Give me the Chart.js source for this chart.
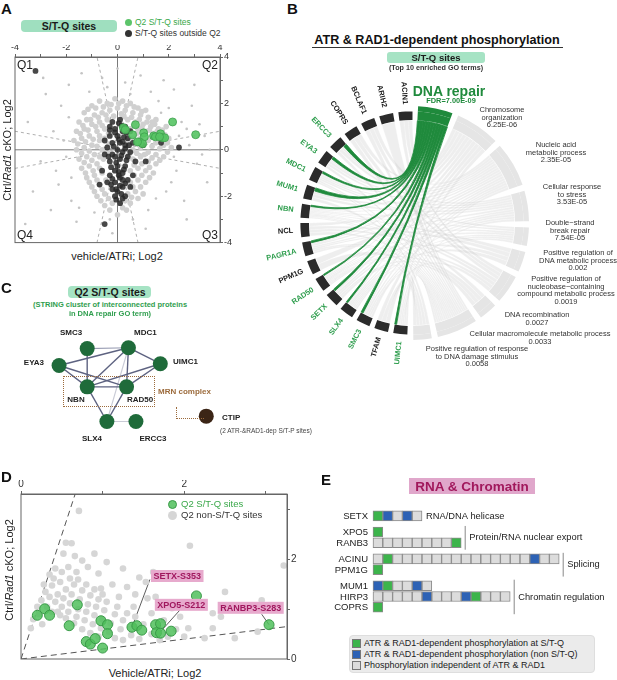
<!DOCTYPE html>
<html>
<head>
<meta charset="utf-8">
<script src="https://cdn.jsdelivr.net/npm/chart.js@4.4.0/dist/chart.umd.min.js"></script>
<style>
body { margin: 0; background: #fff; font-family: "Liberation Sans", Arial, sans-serif; }
#page { position: relative; width: 617px; height: 680px; overflow: hidden; }
.box { position: absolute; }
.t { position: absolute; white-space: nowrap; line-height: 1; color: #222; }
</style>
</head>
<body>
<div id="page">
  <div class="box" style="left:0;top:40px;width:240px;height:209px"><canvas id="chartA"></canvas></div>
  <div class="box" style="left:252px;top:63px;width:320px;height:320px"><canvas id="chartB"></canvas></div>
  <div class="box" style="left:0;top:318px;width:240px;height:135px"><canvas id="chartC"></canvas></div>
  <div class="box" style="left:0;top:474px;width:310px;height:192px"><canvas id="chartD"></canvas></div>
  <div class="box" style="left:320px;top:495px;width:297px;height:130px"><canvas id="chartE"></canvas></div>
</div>
<script>
// ---------- panel A data (vehicle/ATRi vs Ctrl/Rad1 cKO, Log2) ----------
const aGreen = [[0.23,0.95],[0.31,0.86],[0.70,1.08],[0.59,0.65],[1.02,0.73],[1.05,0.56],[0.86,0.34],[0.98,0.26],
  [0.78,0.34],[1.41,0.60],[1.48,0.56],[1.68,0.69],[1.76,0.52],[1.84,0.52],[1.64,0.56],[2.15,1.20],[3.05,0.65]];
const aDark = [[-0.2,1.2],[0.1,1.3],[0.3,1.0],[-0.1,0.9],[0.2,0.8],[0.0,0.6],[-0.3,0.6],[0.4,0.5],[-0.2,0.3],[0.1,0.3],
  [0.3,0.2],[-0.4,0.1],[0.0,0.0],[0.2,-0.1],[-0.2,-0.2],[0.4,-0.3],[0.1,-0.4],[-0.3,-0.5],[0.0,-0.7],[0.3,-0.7],
  [-0.1,-0.9],[0.2,-1.0],[-0.3,-1.1],[0.1,-1.2],[0.4,-1.3],[-0.1,-1.4],[0.2,-1.6],[0.0,-1.8],[-0.2,-1.7],[0.3,-2.0],
  [0.1,-2.3],[-0.1,-2.0],[0.5,0.8],[0.6,0.3],[0.5,-0.1],[0.7,-0.5],[-0.5,0.4],[-0.5,-0.2],[-0.6,-0.9],[-0.4,-1.4],
  [0.6,-1.1],[0.5,-1.6],[-0.3,1.0],[0.15,1.05],[0.05,0.45],[0.25,0.55],[-0.15,0.15],[0.15,-0.25],[0.35,-0.45],
  [-0.05,-0.55],[0.25,-0.85],[0.05,-1.1],[-0.2,-1.25],[0.3,-1.45],[0.1,-1.55],[-0.05,-1.7],[0.15,-1.9],[0.3,0.05],
  [-0.25,-0.75],[0.45,0.2],[-0.1,0.75],[0.05,1.15],[-0.35,-0.3],[0.2,0.35],[-0.1,-0.3],[0.05,-0.95],[-0.25,-1.5],
  [0.2,-1.3],[-0.05,-2.15],[0.2,-2.1],[-0.3,0.85],[0.35,0.75],
  [-3.2,3.4],[-0.5,-3.2],[2.4,0.1],[1.1,-0.5],[1.0,0.2],[-0.7,-1.5],[1.7,0.3]];
const aGreyCore = [[-1.3,1.6],[-1.0,1.9],[-0.7,2.1],[-0.4,2.0],[-0.1,2.2],[0.2,2.1],[0.5,2.0],[0.8,1.8],[1.1,1.7],
  [-1.5,1.2],[-1.2,1.3],[-0.9,1.5],[-0.6,1.6],[-0.3,1.7],[0.0,1.8],[0.3,1.7],[0.6,1.6],[0.9,1.5],[1.2,1.4],[1.5,1.3],
  [-1.6,0.8],[-1.3,0.9],[-1.0,1.1],[-0.7,1.2],[-0.4,1.3],[0.4,1.3],[0.7,1.2],[1.0,1.1],[1.3,1.0],[1.6,0.9],[1.9,1.0],
  [-1.7,0.4],[-1.4,0.5],[-1.1,0.6],[-0.8,0.8],[-0.5,0.9],[0.5,0.9],[0.8,0.9],[1.1,0.8],[1.4,0.7],[1.7,0.6],[2.0,0.5],
  [-1.6,0.0],[-1.3,0.1],[-1.0,0.2],[-0.7,0.4],[-0.5,0.5],[0.6,0.5],[0.9,0.5],[1.2,0.4],[1.5,0.3],[1.8,0.2],[2.1,0.1],
  [-1.5,-0.4],[-1.2,-0.3],[-0.9,-0.2],[-0.6,0.0],[0.6,0.0],[0.9,0.1],[1.2,-0.1],[1.5,-0.2],[1.8,-0.3],
  [-1.4,-0.8],[-1.1,-0.7],[-0.8,-0.6],[-0.55,-0.4],[0.6,-0.4],[0.9,-0.3],[1.2,-0.5],[1.5,-0.6],
  [-1.2,-1.2],[-0.9,-1.1],[-0.6,-1.0],[0.5,-0.9],[0.8,-0.8],[1.1,-0.9],[1.4,-1.0],
  [-1.0,-1.6],[-0.7,-1.5],[-0.45,-1.3],[0.5,-1.4],[0.8,-1.3],[1.1,-1.4],
  [-0.8,-2.0],[-0.5,-1.9],[0.4,-1.9],[0.7,-1.8],[1.0,-1.9],
  [-0.5,-2.4],[-0.2,-2.3],[0.2,-2.5],[0.5,-2.3],[0.0,-2.8],
  [-0.35,0.7],[0.35,0.7],[-0.4,-0.1],[0.45,-0.2],[0.4,0.35],[-0.35,0.25],[0.15,1.55],[-0.15,1.45],[0.3,-2.2],
  [-1.15,1.75],[-0.85,1.8],[-0.55,1.85],[-0.25,1.95],[0.05,2.0],[0.35,1.9],[0.65,1.85],[0.95,1.65],[1.35,1.2],
  [-1.35,1.05],[-1.05,1.3],[-0.75,1.4],[-0.45,1.5],[0.25,1.45],[0.55,1.4],[0.85,1.3],[1.15,1.2],[1.45,1.1],
  [1.75,0.85],[-1.45,0.7],[-1.15,0.85],[-0.85,1.0],[-0.6,1.05],[0.65,1.05],[0.95,0.95],[1.25,0.85],[1.55,0.8],
  [1.85,0.65],[-1.55,0.25],[-1.25,0.35],[-0.95,0.45],[-0.7,0.6],[0.75,0.7],[1.05,0.65],[1.35,0.55],[1.65,0.45],
  [1.95,0.3],[-1.4,-0.15],[-1.1,-0.05],[-0.8,0.15],[0.75,0.25],[1.05,0.25],[1.35,0.15],[1.65,0.05],[1.95,-0.1],
  [-1.3,-0.55],[-1.0,-0.45],[-0.7,-0.3],[0.75,-0.15],[1.05,-0.2],[1.35,-0.35],[1.65,-0.45],[-1.25,-1.0],
  [-0.95,-0.9],[-0.7,-0.8],[0.65,-0.65],[0.95,-0.6],[1.25,-0.75],[-1.1,-1.4],[-0.8,-1.3],[0.65,-1.1],[0.95,-1.1],
  [1.25,-1.2],[-0.9,-1.8],[-0.6,-1.7],[0.6,-1.6],[0.9,-1.6],[-0.65,-2.2],[-0.35,-2.1],[0.55,-2.05],[0.8,-2.1],
  [-0.3,-2.6],[0.1,-2.3],[0.35,-2.6]];
const aGreySparse = [[-3.5,1.2],[-3.0,-0.5],[-2.8,2.4],[-2.5,0.8],[-2.3,-1.5],[-2.2,1.9],[-2.0,-0.3],[-1.9,2.8],
  [-1.8,-2.2],[-1.9,1.4],[-1.6,-3.1],[-2.6,-2.6],[-3.3,-1.8],[-1.4,3.3],[-1.1,2.5],[-0.9,-2.7],[-0.6,3.1],[-0.4,2.7],
  [0.0,3.5],[0.3,2.9],[0.6,-3.0],[0.9,3.2],[1.2,-2.6],[1.3,2.5],[1.6,2.1],[1.9,-1.8],[2.0,1.8],[2.3,-0.9],[2.5,1.2],
  [2.6,-2.2],[2.8,0.2],[2.9,1.9],[3.1,-0.6],[3.2,1.1],[3.4,0.6],[3.5,-1.4],[3.6,0.0],[2.2,2.6],[1.1,-3.4],[-0.2,-3.6],
  [1.8,3.0],[2.7,-3.0],[3.0,2.8],[-2.9,3.1],[-3.6,-3.2],[0.5,2.4],[1.5,-2.1],[2.1,-1.4],[-1.5,-2.5],[-2.4,-0.9],
  [2.4,0.6],[2.2,-0.3],[-2.1,0.4],[1.7,1.6],[-1.8,-1.2],[3.3,-0.2],[2.7,0.9],[-0.3,-3.0]];
const aTicks = [-4, -2, 0, 2, 4];
const guideSlope = 0.2;   // dashed quadrant guides

// ---------- panel B data (top 10 GO terms) ----------
const goTerms = ['DNA repair', 'Chromosome<br>organization', 'Nucleic acid<br>metabolic process', 'Cellular response<br>to stress',
  'Double\u2212strand<br>break repair', 'Positive regulation of<br>DNA metabolic process',
  'Positive regulation of<br>nucleobase\u2212containing<br>compound metabolic process', 'DNA recombination',
  'Cellular macromolecule metabolic process', 'Positive regulation of response<br>to DNA damage stimulus'];
const goFDR = ['7.00E-09', '6.25E-06', '2.35E-05', '3.53E-05', '7.54E-05', '0.002', '0.0019', '0.0027', '0.0033', '0.0058'];
const goSize = [17, 22, 22, 15, 9, 10, 14, 9, 20, 9];
const genes = ['ACIN1','ARIH2','BCLAF1','COPRS','ERCC3','EYA3','MDC1','MUM1','NBN','NCL','PAGR1A','PPM1G','RAD50',
  'SETX','SLX4','SMC3','TFAM','UIMC1'];
const geneGO = ['0010001010','0000000010','0010001010','0100001010','1011000010','1111000010','1111100011',
  '1011000010','1111111111','0010011010','1111100011','0010000010','1111111111','1111000110','1111110110',
  '1111100010','0010001010','1111100011'];

// ---------- panel C data (STRING cluster) ----------
const nodeNames = ['SMC3','MDC1','EYA3','UIMC1','NBN','RAD50','SLX4','ERCC3','CTIP'];
const nodeX = [85, 129, 55, 163, 85, 127, 106, 137, 212];
const nodeY = [26, 25, 45, 43, 69, 69, 108, 108, 102];
const edges = [[0,4,2],[2,1,2],[2,4,2],[2,5,2],[1,3,2],[1,4,2],[1,5,2],[4,5,2],[4,3,2],[5,3,2],[4,6,2],[5,6,2],
  [0,1,1],[1,6,0],[6,7,0]];

// ---------- panel D data (Q2 sites) ----------
const dGreen = [[0.20,0.88],[0.29,1.01],[0.35,0.88],[0.59,0.67],[0.69,1.09],[0.80,0.35],[0.85,0.30],[0.91,0.41],
  [0.98,0.77],[1.06,0.69],[1.06,0.51],[1.00,0.22],[1.36,0.64],[1.42,0.67],[1.48,0.58],[1.65,0.69],[1.71,0.71],
  [1.66,0.53],[1.71,0.52],[1.84,0.56],[2.15,1.27],[3.04,0.69]];
const dGrey = [[0.71,2.98],[0.55,2.34],[0.62,2.33],[0.52,2.12],[0.66,2.07],[0.75,1.98],[0.9,2.12],[0.82,1.85],
  [1.05,1.95],[0.95,1.72],[1.25,1.82],[1.45,1.64],[2.07,2.28],[1.12,1.5],[1.53,1.55],[1.62,1.75],[1.3,1.45],
  [0.98,1.42],[3.22,1.88],[2.95,1.18],[2.35,0.92],[2.5,1.35],[2.05,0.62],[2.25,0.42],[1.95,0.85],[2.12,1.05],
  [1.85,1.02],[2.62,0.42],[2.9,0.55],[1.55,1.22],[1.38,1.05],[1.2,1.25],
  [0.3,1.35],[0.35,1.25],[0.38,1.48],[0.42,1.15],[0.45,1.3],[0.48,1.55],[0.5,1.05],[0.52,1.22],[0.55,1.4],
  [0.58,0.95],[0.6,1.12],[0.62,1.3],[0.65,1.5],[0.68,0.85],[0.7,1.0],[0.72,1.2],[0.75,1.38],[0.78,0.78],[0.8,0.95],
  [0.82,1.1],[0.85,1.28],[0.88,0.7],[0.9,0.88],[0.92,1.05],[0.95,1.2],[0.98,0.62],[1.0,0.8],[1.02,0.98],[1.05,1.15],
  [1.08,0.55],[1.1,0.72],[1.15,0.9],[1.18,1.05],[1.22,0.6],[1.25,0.78],[1.3,0.92],[1.35,0.48],[1.4,0.85],[1.45,0.4],
  [1.5,0.7],[0.4,1.62],[0.45,0.95],[0.55,0.82],[0.65,0.72],[0.25,1.18],[0.32,1.05],[0.6,1.62],[0.7,1.6],[0.28,1.5],
  [0.35,1.7],[0.42,1.82],[0.5,1.75],[0.75,0.6],[0.85,0.52],[0.95,0.45],[1.15,0.42],[1.25,0.38],[0.38,0.95],
  [0.48,0.88],[0.2,1.05],[0.22,0.9],[0.15,0.8],[0.58,1.85],[0.8,1.5],[0.9,1.4],[1.0,1.3],[0.68,1.75],[1.6,0.5],
  [1.7,0.38],[1.8,0.45],[1.6,0.92],[1.75,0.78],[1.9,0.6],[0.12,0.62],[0.26,0.7],[1.4,1.3],[1.65,1.25],[2.0,0.45],
  [2.35,0.62],[2.45,0.85]];
const dTags = [
  { text: 'SETX-S353', at: [1.36, 0.64], tag: [1.915, 1.67], from: [1.58, 1.60] },
  { text: 'XPO5-S212', at: [1.71, 0.55], tag: [1.965, 1.09], from: [1.95, 0.99] },
  { text: 'RANBP3-S283', at: [3.04, 0.69], tag: [2.815, 1.03], from: [2.95, 0.90] }
];

// ---------- panel E data (RNA & Chromatin) ----------
const eProteins = ['SETX','XPO5','RANB3','ACINU','PPM1G','MUM1','HIRP3','COPRS'];
const eGroupOf = [0, 1, 1, 2, 2, 3, 3, 3];
const eGroups = ['RNA/DNA helicase', 'Protein/RNA nuclear export', 'Splicing', 'Chromatin regulation'];
const eSites = ['gbxbx', 'g', 'xxxxxxxxg', 'xgxxxxxxxxxxxxxxbxx', 'g', 'bgxxbx', 'xxxxxbxxxbgxxx', 'g'];

// ---------- common ----------
const FONT = '"Liberation Sans", Arial, sans-serif';
Chart.defaults.font.family = FONT;
Chart.defaults.animation = false;
Chart.defaults.events = [];
Chart.defaults.plugins.legend.display = false;
Chart.defaults.plugins.tooltip.enabled = false;
const GREEN = '#1f8a3c';
const page = document.getElementById('page');

function T(x, y, html, css, align) {
  const d = document.createElement('div');
  d.className = 't';
  d.innerHTML = html;
  d.style.cssText += css || '';
  d.style.left = x + 'px';
  d.style.top = y + 'px';
  const tx = align === 'l' ? '0' : align === 'r' ? '-100%' : '-50%';
  d.style.transform = 'translate(' + tx + ',-50%)' + (align === 'v' ? ' rotate(-90deg)' : '');
  page.appendChild(d);
  return d;
}
function rect(x, y, w, h, css) {
  const d = document.createElement('div');
  d.style.cssText = 'position:absolute;left:' + x + 'px;top:' + y + 'px;width:' + w + 'px;height:' + h + 'px;' + css;
  page.appendChild(d);
  return d;
}
const pts = arr => arr.map(p => ({ x: p[0], y: p[1] }));

const framePlugin = {
  id: 'frame',
  afterDraw(chart) {
    const { ctx, chartArea: a } = chart;
    ctx.save();
    ctx.strokeStyle = '#666';
    ctx.lineWidth = 1;
    ctx.strokeRect(a.left, a.top, a.right - a.left, a.bottom - a.top);
    ctx.restore();
  }
};

function axisOpts(pos, min, max, size, fitSize, labelled) {
  return {
    type: 'linear', position: pos, min: min, max: max,
    ticks: { stepSize: 1, includeBounds: false, autoSkip: false, maxRotation: 0, padding: 1,
      font: { size: size }, color: '#333', callback: v => (labelled.includes(v) ? v : '') },
    grid: { drawOnChartArea: false, tickLength: 3, color: '#666' },
    border: { color: '#666' },
    afterFit: s => { if (pos === 'top') s.height = fitSize; else s.width = fitSize; }
  };
}

// ---------- panel A ----------
const quadPlugin = {
  id: 'quads',
  afterDraw(chart) {
    const { ctx, chartArea: a } = chart;
    ctx.save();
    ctx.font = '12px ' + FONT;
    ctx.fillStyle = '#222';
    ctx.textBaseline = 'top';
    ctx.textAlign = 'left'; ctx.fillText('Q1', a.left + 2, a.top + 3);
    ctx.textAlign = 'right'; ctx.fillText('Q2', a.right - 2, a.top + 3);
    ctx.textBaseline = 'bottom';
    ctx.textAlign = 'left'; ctx.fillText('Q4', a.left + 2, a.bottom - 1);
    ctx.textAlign = 'right'; ctx.fillText('Q3', a.right - 2, a.bottom - 1);
    ctx.restore();
  }
};
const guide = (p) => ({ type: 'line', data: p, borderColor: '#9a9a9a', borderWidth: 0.8, borderDash: [3, 3], pointRadius: 0 });
const axisLine = (p) => ({ type: 'line', data: p, borderColor: '#7a7a7a', borderWidth: 1, pointRadius: 0 });
new Chart(document.getElementById('chartA'), {
  type: 'scatter',
  data: { datasets: [
    { data: pts(aGreen), pointRadius: 4, backgroundColor: 'rgba(86,196,100,0.9)', borderColor: '#3d9f4c', borderWidth: 0.8 },
    { data: pts(aDark), pointRadius: 2.9, backgroundColor: 'rgba(40,40,40,0.85)', borderWidth: 0 },
    { data: pts(aGreyCore), pointRadius: 2.8, backgroundColor: '#d0d0d0', borderWidth: 0 },
    { data: pts(aGreySparse), pointRadius: 1.3, backgroundColor: '#c4c4c4', borderWidth: 0 },
    guide([{ x: -4, y: -4 * guideSlope }, { x: 4, y: 4 * guideSlope }]),
    guide([{ x: -4, y: 4 * guideSlope }, { x: 4, y: -4 * guideSlope }]),
    guide([{ x: -4 * guideSlope, y: -4 }, { x: 4 * guideSlope, y: 4 }]),
    guide([{ x: 4 * guideSlope, y: -4 }, { x: -4 * guideSlope, y: 4 }]),
    axisLine([{ x: -4, y: 0 }, { x: 4, y: 0 }]),
    axisLine([{ x: 0, y: -4 }, { x: 0, y: 4 }])
  ] },
  options: {
    responsive: true, maintainAspectRatio: false,
    layout: { padding: { left: 15, right: 6, top: 5, bottom: 6 } },
    scales: { x: axisOpts('top', -4, 4, 9, 12, aTicks), y: axisOpts('right', -4, 4, 9, 14, aTicks) }
  },
  plugins: [framePlugin, quadPlugin]
});
T(1, 8, 'A', 'font-weight:bold;font-size:15px;color:#111', 'l');
rect(21, 20, 96, 12, 'background:#9fdfbf;border-radius:4px;');
T(69, 26, 'S/T-Q sites', 'font-weight:bold;font-size:10.5px;color:#1a1a1a');
rect(124.5, 18.5, 7, 7, 'background:#5cc46a;border-radius:50%;');
T(135, 22, 'Q2 S/T-Q sites', 'font-size:8.5px;color:#3aa84a', 'l');
rect(124.5, 29.5, 7, 7, 'background:#333;border-radius:50%;');
T(135, 33, 'S/T-Q sites outside Q2', 'font-size:8.5px;color:#333', 'l');
T(117, 256, 'vehicle/ATRi; Log2', 'font-size:11px;color:#222');
T(7, 150, 'Ctrl/<i>Rad1</i> cKO; Log2', 'font-size:11px;color:#222', 'v');

// ---------- panel B ----------
const GO_GAP = 3, GENE_SIZE = 7.2, GENE_GAP = 2.7;
const R_OUT = 117, R_IN = 103;
const segs = [];
goTerms.forEach((t, j) => { segs.push({ kind: 'go', j: j, v: goSize[j] }); segs.push({ kind: 'gap', v: GO_GAP }); });
genes.slice().reverse().forEach(g => { segs.push({ kind: 'gene', g: g, v: GENE_SIZE }); segs.push({ kind: 'gap', v: GENE_GAP }); });
const CLEAR = 'rgba(0,0,0,0)';
const goColor = s => (s.j === 0 ? GREEN : '#e5e5e5');

const chordPlugin = {
  id: 'chords',
  afterDatasetsDraw(chart) {
    const ctx = chart.ctx;
    const arcs = chart.getDatasetMeta(1).data.map(el => el.getProps(['x', 'y', 'startAngle', 'endAngle', 'innerRadius', 'outerRadius'], true));
    const outer = chart.getDatasetMeta(0).data[0].getProps(['outerRadius'], true).outerRadius;
    const cx = arcs[0].x, cy = arcs[0].y, r = arcs[0].innerRadius - 0.5;
    const goArc = {}, geneArc = {};
    segs.forEach((s, i) => {
      if (s.kind === 'go') goArc[s.j] = [arcs[i].startAngle, arcs[i].endAngle];
      if (s.kind === 'gene') geneArc[s.g] = [arcs[i].startAngle, arcs[i].endAngle];
    });
    const slot = {};
    genes.forEach((g, gi) => {
      const terms = [];
      for (let j = 0; j < goTerms.length; j++) if (geneGO[gi][j] === '1') terms.push(j);
      const [s, e] = geneArc[g];
      const w = (e - s) / terms.length;
      terms.forEach((j, k) => { slot[g + '_' + j] = [e - (k + 1) * w, e - k * w]; });
    });
    const links = [];
    goTerms.forEach((t, j) => {
      const mem = genes.filter((g, gi) => geneGO[gi][j] === '1');
      const [s, e] = goArc[j];
      const w = (e - s) / mem.length;
      mem.forEach((g, k) => links.push({ j: j, a: [s + k * w, s + (k + 1) * w], b: slot[g + '_' + j] }));
    });
    const ribbon = (a, b) => {
      ctx.beginPath();
      ctx.arc(cx, cy, r, a[0], a[1]);
      ctx.quadraticCurveTo(cx, cy, cx + r * Math.cos(b[0]), cy + r * Math.sin(b[0]));
      ctx.arc(cx, cy, r, b[0], b[1]);
      ctx.quadraticCurveTo(cx, cy, cx + r * Math.cos(a[0]), cy + r * Math.sin(a[0]));
      ctx.closePath();
      ctx.fill();
      ctx.stroke();
    };
    ctx.save();
    ctx.fillStyle = 'rgba(200,200,200,0.3)';
    ctx.strokeStyle = 'rgba(255,255,255,0.5)';
    ctx.lineWidth = 0.4;
    links.filter(l => l.j !== 0).forEach(l => ribbon(l.a, l.b));
    ctx.fillStyle = GREEN;
    ctx.strokeStyle = GREEN;
    ctx.lineWidth = 0.8;
    links.filter(l => l.j === 0).forEach(l => ribbon(l.a, l.b));
    // gene labels
    ctx.font = 'bold 7.5px ' + FONT;
    ctx.textAlign = 'right';
    ctx.textBaseline = 'middle';
    genes.forEach((g, gi) => {
      const [s, e] = geneArc[g];
      const m = (s + e) / 2;
      ctx.save();
      ctx.translate(cx + (outer + 2) * Math.cos(m), cy + (outer + 2) * Math.sin(m));
      ctx.rotate(m - Math.PI);
      ctx.fillStyle = geneGO[gi][0] === '1' ? '#2f9e4e' : '#1a1a1a';
      ctx.fillText(g, 0, 0);
      ctx.restore();
    });
    ctx.restore();
  }
};
new Chart(document.getElementById('chartB'), {
  type: 'doughnut',
  data: {
    labels: segs.map(s => s.kind === 'go' ? goTerms[s.j] : (s.g || '')),
    datasets: [
      { data: segs.map(s => s.v), weight: 5, borderWidth: 0,
        backgroundColor: segs.map(s => s.kind === 'go' ? goColor(s) : CLEAR) },
      { data: segs.map(s => s.v), weight: 8, borderWidth: 0,
        backgroundColor: segs.map(s => s.kind === 'go' ? goColor(s) : s.kind === 'gene' ? '#2b2b2b' : CLEAR) }
    ]
  },
  options: { responsive: true, maintainAspectRatio: false, rotation: 3,
    cutout: (R_IN / R_OUT * 100) + '%', radius: R_OUT },
  plugins: [chordPlugin]
});
T(287, 8, 'B', 'font-weight:bold;font-size:15px;color:#111', 'l');
T(437, 40, 'ATR &amp; RAD1-dependent phosphorylation', 'font-weight:bold;font-size:12.6px;color:#111');
rect(312, 47, 251, 0, 'border-top:1.5px solid #333;');
rect(387, 52, 98, 11, 'background:#a6e3c4;border-radius:3px;');
T(436, 57.5, 'S/T-Q sites', 'font-weight:bold;font-size:9.5px;color:#1a1a1a');
T(436, 68, '(Top 10 enriched GO terms)', 'font-weight:bold;font-size:7.2px;color:#333');
T(449, 91, 'DNA repair', 'font-weight:bold;font-size:14px;color:' + GREEN);
T(451, 101, 'FDR=' + goFDR[0], 'font-weight:bold;font-size:7.4px;color:' + GREEN);
const goLabelPos = [null, [502, 117], [556, 152], [572, 194], [570, 230], [578, 260], [566, 290], [537, 319], [540, 338], [477, 356]];
goTerms.forEach((t, j) => {
  if (!goLabelPos[j]) return;
  T(goLabelPos[j][0], goLabelPos[j][1], t + '<br>' + goFDR[j],
    'font-size:7.5px;color:#333;text-align:center;line-height:7.6px;');
});

// ---------- panel C ----------
const edgeColor = ['#c9cbd6', '#9a9eb4', '#5d6280'];
new Chart(document.getElementById('chartC'), {
  type: 'scatter',
  data: { datasets: [
    { data: nodeX.map((x, i) => ({ x: x, y: nodeY[i] })), pointRadius: 7.5, borderWidth: 0,
      backgroundColor: nodeNames.map(n => n === 'CTIP' ? '#3b2516' : '#1f6b3a') }
  ].concat(edges.map(e => ({
    type: 'line', data: [{ x: nodeX[e[0]], y: nodeY[e[0]] }, { x: nodeX[e[1]], y: nodeY[e[1]] }],
    borderColor: edgeColor[e[2]], borderWidth: e[2] === 2 ? 1.4 : 1.1, pointRadius: 0
  }))) },
  options: {
    responsive: true, maintainAspectRatio: false,
    scales: { x: { type: 'linear', min: 0, max: 240, display: false },
              y: { type: 'linear', min: 0, max: 135, reverse: true, display: false } }
  }
});
T(1, 287, 'C', 'font-weight:bold;font-size:15px;color:#111', 'l');
rect(68, 286, 83, 12, 'background:#a6e3c4;border-radius:4px;');
T(110, 292, 'Q2 S/T-Q sites', 'font-weight:bold;font-size:10.5px;color:#1a1a1a');
T(110, 305, '(STRING cluster of interconnected proteins', 'font-weight:bold;font-size:7.5px;color:#2f9e4e');
T(110, 314, 'in DNA repair GO term)', 'font-weight:bold;font-size:7.5px;color:#2f9e4e');
const nodeLab = 'font-weight:bold;font-size:8px;color:#222';
T(71, 333, 'SMC3', nodeLab);
T(134, 333, 'MDC1', nodeLab, 'l');
T(44, 363, 'EYA3', nodeLab, 'r');
T(173, 362, 'UIMC1', nodeLab, 'l');
T(76, 400, 'NBN', nodeLab);
T(140, 400, 'RAD50', nodeLab);
T(92, 439, 'SLX4', nodeLab);
T(153, 439, 'ERCC3', nodeLab);
T(222, 418, 'CTIP', nodeLab, 'l');
T(220, 431, '(2 ATR-&amp;RAD1-dep S/T-P sites)', 'font-size:6.5px;color:#444', 'l');
rect(63, 376, 92, 31, 'border:1.3px dotted #9c6b3c;box-sizing:border-box;');
T(158, 392, 'MRN complex', 'font-weight:bold;font-size:8px;color:#9c6b3c', 'l');
rect(176, 407, 0, 12, 'border-left:1.3px dotted #9c6b3c;');
rect(176, 418, 28, 0, 'border-top:1.3px dotted #9c6b3c;');

// ---------- panel D ----------
const tagPlugin = {
  id: 'tags',
  beforeDatasetsDraw(chart) {
    const { ctx, scales: { x, y } } = chart;
    ctx.save();
    ctx.strokeStyle = '#333';
    ctx.lineWidth = 0.8;
    dTags.forEach(t => {
      ctx.beginPath();
      ctx.moveTo(x.getPixelForValue(t.from[0]), y.getPixelForValue(t.from[1]));
      ctx.lineTo(x.getPixelForValue(t.at[0]), y.getPixelForValue(t.at[1]));
      ctx.stroke();
    });
    ctx.restore();
  },
  afterDatasetsDraw(chart) {
    const { ctx, scales: { x, y } } = chart;
    ctx.save();
    ctx.font = 'bold 9px ' + FONT;
    ctx.textAlign = 'center';
    ctx.textBaseline = 'middle';
    dTags.forEach(t => {
      const px = x.getPixelForValue(t.tag[0]), py = y.getPixelForValue(t.tag[1]);
      const w = ctx.measureText(t.text).width + 5;
      ctx.fillStyle = '#e7aacd';
      ctx.fillRect(px - w / 2, py - 6, w, 12);
      ctx.fillStyle = '#a0175e';
      ctx.fillText(t.text, px, py + 0.5);
    });
    ctx.restore();
  }
};
const dash = (p) => ({ type: 'line', data: p, borderColor: '#555', borderWidth: 1, borderDash: [6, 4], pointRadius: 0 });
const D_XMAX = 3.26, D_YMAX = 3.32;
new Chart(document.getElementById('chartD'), {
  type: 'scatter',
  data: { datasets: [
    { data: pts(dGreen), pointRadius: 5, backgroundColor: 'rgba(80,192,92,0.85)', borderColor: '#3a9a48', borderWidth: 1 },
    { data: pts(dGrey), pointRadius: 3.3, backgroundColor: '#d6d6d6', borderWidth: 0 },
    dash([{ x: 0, y: 0 }, { x: D_XMAX, y: D_XMAX * guideSlope }]),
    dash([{ x: 0, y: 0 }, { x: D_YMAX * guideSlope, y: D_YMAX }])
  ] },
  options: {
    responsive: true, maintainAspectRatio: false,
    layout: { padding: { left: 21, right: 7, top: 6, bottom: 6 } },
    scales: { x: axisOpts('top', 0, D_XMAX, 10, 14, [0, 2]), y: axisOpts('right', 0, D_YMAX, 10, 16, [0, 2]) }
  },
  plugins: [framePlugin, tagPlugin]
});
T(1, 476, 'D', 'font-weight:bold;font-size:15px;color:#111', 'l');
rect(167.5, 499.5, 9, 9, 'background:rgba(80,192,92,0.85);border:1px solid #3a9a48;border-radius:50%;box-sizing:border-box;');
T(181, 504, 'Q2 S/T-Q sites', 'font-size:9.5px;color:#3aa84a', 'l');
rect(167.5, 510.5, 9, 9, 'background:#d6d6d6;border-radius:50%;');
T(181, 515, 'Q2 non-S/T-Q sites', 'font-size:9.5px;color:#333', 'l');
T(155, 673, 'Vehicle/ATRi; Log2', 'font-size:11px;color:#222');
T(9, 570, 'Ctrl/<i>Rad1</i> cKO; Log2', 'font-size:11px;color:#222', 'v');

// ---------- panel E ----------
const eRow = eProteins.map((p, i) => i + 0.5 * eGroupOf[i]);
const siteColor = { g: '#3cb44b', b: '#2d62b5', x: '#dcdcdc' };
const eData = { g: [], b: [], x: [] };
eSites.forEach((s, i) => [...s].forEach((c, k) => eData[c].push({ y: eRow[i], x: [k, k + 1] })));
const BOX = 9.8, ROW = 12.9;
const ePlugin = {
  id: 'eLabels',
  afterDraw(chart) {
    const { ctx, scales: { x, y } } = chart;
    ctx.save();
    ctx.fillStyle = '#222';
    ctx.textBaseline = 'middle';
    ctx.font = '9.5px ' + FONT;
    ctx.textAlign = 'right';
    eProteins.forEach((p, i) => ctx.fillText(p, x.getPixelForValue(0) - 5, y.getPixelForValue(eRow[i]) + 0.5));
    ctx.textAlign = 'left';
    ctx.font = '9.3px ' + FONT;
    ctx.strokeStyle = '#888';
    ctx.lineWidth = 1;
    eGroups.forEach((gname, k) => {
      const idx = eProteins.map((p, i) => i).filter(i => eGroupOf[i] === k);
      const end = x.getPixelForValue(Math.max(...idx.map(i => eSites[i].length)));
      const top = y.getPixelForValue(eRow[idx[0]]), bot = y.getPixelForValue(eRow[idx[idx.length - 1]]);
      if (idx.length > 1) {
        ctx.beginPath();
        ctx.moveTo(end + 4, top - 6);
        ctx.lineTo(end + 4, bot + 7);
        ctx.stroke();
        ctx.fillText(gname, end + 8, (top + bot) / 2 + 0.5);
      } else {
        ctx.fillText(gname, end + 4, top + 0.5);
      }
    });
    ctx.restore();
  }
};
const eSet = c => ({ data: eData[c], backgroundColor: siteColor[c], borderColor: '#8a8a8a', borderWidth: 1,
  borderSkipped: false, barThickness: 10, grouped: false });
new Chart(document.getElementById('chartE'), {
  type: 'bar',
  data: { datasets: [eSet('x'), eSet('g'), eSet('b')] },
  options: {
    indexAxis: 'y', responsive: true, maintainAspectRatio: false,
    scales: {
      x: { type: 'linear', min: -53 / BOX, max: (297 - 53) / BOX, display: false },
      y: { type: 'linear', min: -12 / ROW, max: (130 - 12) / ROW, reverse: true, display: false }
    }
  },
  plugins: [ePlugin]
});
T(321, 479, 'E', 'font-weight:bold;font-size:15px;color:#111', 'l');
rect(409, 478, 126, 16, 'background:#e0a7cb;');
T(472, 486.5, 'RNA &amp; Chromatin', 'font-weight:bold;font-size:13.5px;color:#a1185c');
rect(349, 635, 246, 38, 'background:#ebebeb;border:1px solid #dedede;border-radius:4px;box-sizing:border-box;');
[['#3cb44b', 'ATR &amp; RAD1-dependent phosphorylation at S/T-Q', 643],
 ['#2d62b5', 'ATR &amp; RAD1-dependent phosphorylation (non S/T-Q)', 654],
 ['#dcdcdc', 'Phosphorylation independent of ATR &amp; RAD1', 665]].forEach(l => {
  rect(352, l[2] - 4.5, 9, 9, 'background:' + l[0] + ';border:1px solid #777;box-sizing:border-box;');
  T(364, l[2], l[1], 'font-size:9px;color:#222', 'l');
});
</script>
</body>
</html>
